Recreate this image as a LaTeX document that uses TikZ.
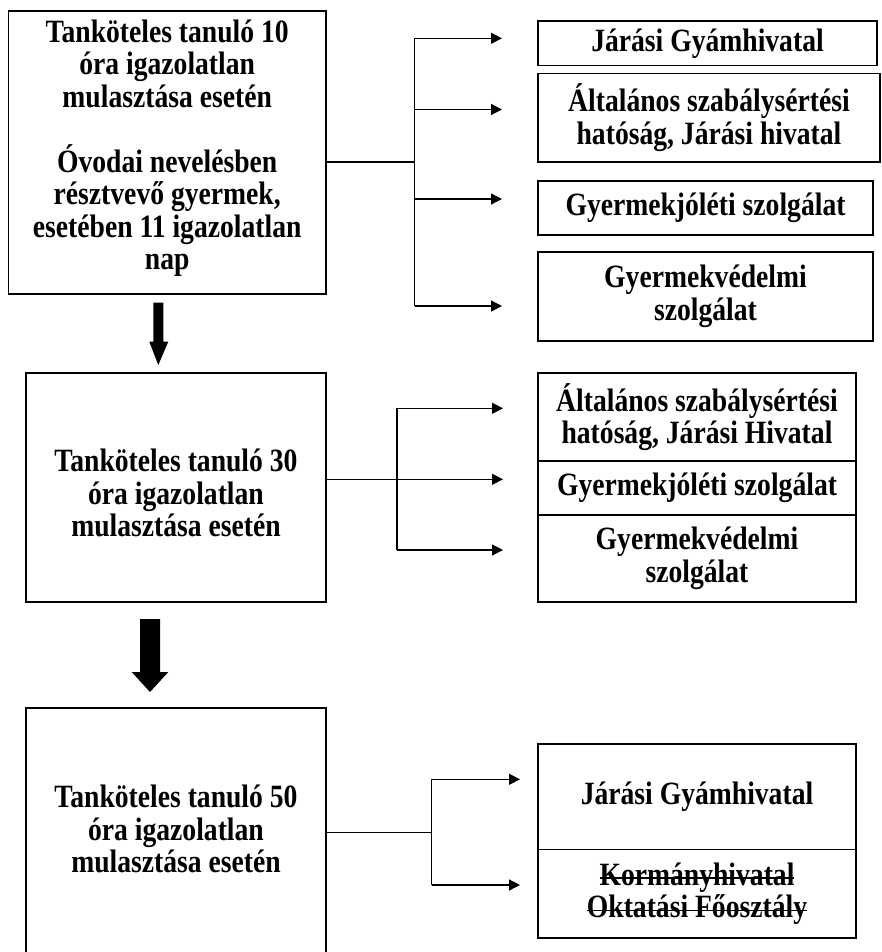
\documentclass[tikz,border=0pt]{standalone}
\usepackage{fontspec}
\setmainfont[FakeStretch=0.85]{Liberation Serif}
\usetikzlibrary{arrows.meta}
\newsavebox\strkbox
\newcommand\mystrike[1]{\sbox\strkbox{#1}\rlap{\rule[0.2em]{\wd\strkbox}{1.7pt}}\usebox\strkbox}
\begin{document}
\begin{tikzpicture}[x=1pt,y=-1pt,
  box/.style={draw, line width=1.4pt, inner sep=0pt, outer sep=0pt},
  txt/.style={align=center, font=\bfseries\fontsize{32.5}{32.5}\selectfont, inner sep=0pt},
  conn/.style={line width=1.2pt, -{Triangle[length=11pt,width=11pt]}},
  plain/.style={line width=1.2pt},
  fatarrow/.style={fill=black, draw=none}]
\useasboundingbox (0,0) rectangle (882,952);

% ---- left boxes
\node[box, minimum width=317.6, minimum height=283] (b1) at (167.2,152.5) {};
\node[txt] (t1) at (167.2,148) {Tanköteles tanuló 10\\óra igazolatlan\\mulasztása esetén\\[32.5pt]Óvodai nevelésben\\résztvevő gyermek,\\esetében 11 igazolatlan\\nap};

\node[box, minimum width=300, minimum height=229] (b2) at (176,487.5) {};
\node[txt] (t2) at (176,493) {Tanköteles tanuló 30\\óra igazolatlan\\mulasztása esetén};

\node[box, minimum width=300, minimum height=262] (b3) at (176,839) {};
\node[txt] (t3) at (176,829) {Tanköteles tanuló 50\\óra igazolatlan\\mulasztása esetén};

% ---- right boxes, group 1
\node[box, txt, minimum width=339, minimum height=44.5] (rA) at (707.5,43.25) {Járási Gyámhivatal};
\node[box, txt, minimum width=342, minimum height=88.5] (rB) at (709,117.75) {Általános szabálysértési\\hatóság, Járási hivatal};
\node[box, txt, minimum width=335, minimum height=54] (rC) at (705.5,208) {Gyermekjóléti szolgálat};
\node[box, txt, minimum width=335, minimum height=89] (rD) at (705.5,296.5) {Gyermekvédelmi\\szolgálat};

% ---- right boxes, group 2
\node[box, txt, minimum width=318, minimum height=88] (sA) at (697,417) {Általános szabálysértési\\hatóság, Járási Hivatal};
\node[box, txt, minimum width=318, minimum height=54] (sB) at (697,488) {Gyermekjóléti szolgálat};
\node[box, txt, minimum width=318, minimum height=87] (sC) at (697,558.5) {Gyermekvédelmi\\szolgálat};

% ---- right boxes, group 3
\node[box, txt, minimum width=318, minimum height=105.5] (uA) at (697,796.75) {Járási Gyámhivatal};
\node[box, txt, minimum width=318, minimum height=88.5] (uB) at (697,893.75) {\mystrike{Kormányhivatal}\\\mystrike{Oktatási Főosztály}};

% ---- connectors group 1
\coordinate (j1) at (414.5,162);
\coordinate (e1a) at (502,38.3);
\coordinate (e1b) at (502,109.5);
\coordinate (e1c) at (502,199);
\coordinate (e1d) at (502,306);
\draw[plain] (b1.east |- j1) -- (j1);
\draw[plain] (j1 |- e1a) -- (j1 |- e1d);
\foreach \e in {e1a,e1b,e1c,e1d} \draw[conn] (j1 |- \e) -- (\e);

% ---- connectors group 2
\coordinate (j2) at (397,479.3);
\coordinate (e2a) at (503,408.3);
\coordinate (e2b) at (503,479.3);
\coordinate (e2c) at (503,550);
\draw[conn] (b2.east |- j2) -- (e2b);
\draw[plain] (j2 |- e2a) -- (j2 |- e2c);
\draw[conn] (j2 |- e2a) -- (e2a);
\draw[conn] (j2 |- e2c) -- (e2c);

% ---- connectors group 3
\coordinate (j3) at (431.7,832.7);
\coordinate (e3a) at (520,779.3);
\coordinate (e3b) at (520,885);
\draw[plain] (b3.east |- j3) -- (j3);
\draw[plain] (j3 |- e3a) -- (j3 |- e3b);
\draw[conn] (j3 |- e3a) -- (e3a);
\draw[conn] (j3 |- e3b) -- (e3b);

% ---- fat arrows
\fill[fatarrow] (153.3,302.7) -- (163.3,302.7) -- (163.3,341.7) -- (168.3,341.7)
  -- (158.3,365) -- (149.3,341.7) -- (153.3,341.7) -- cycle;
\fill[fatarrow] (140,619) -- (160,619) -- (160,672) -- (168.3,672)
  -- (150,692) -- (131.7,672) -- (140,672) -- cycle;
\end{tikzpicture}
\end{document}
